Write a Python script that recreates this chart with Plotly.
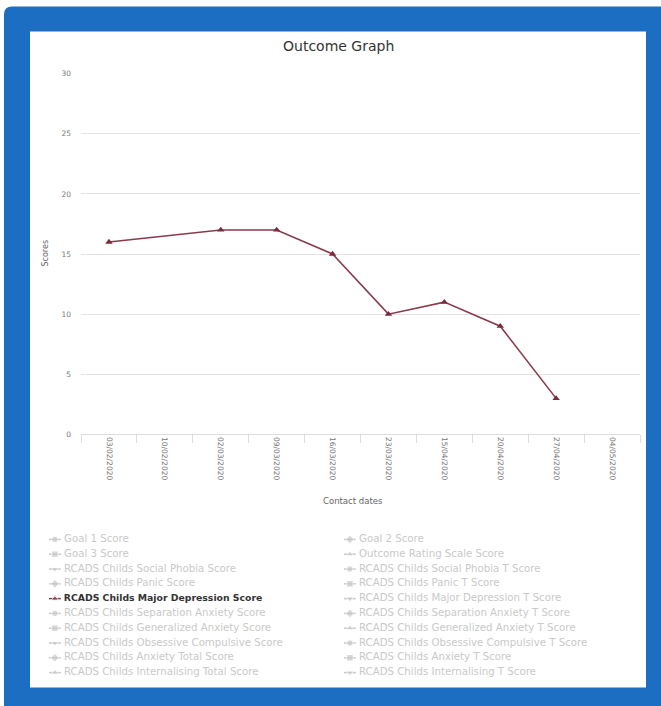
import plotly.graph_objects as go

# ---------------- data ----------------
contact_dates = ["03/02/2020", "10/02/2020", "02/03/2020", "09/03/2020", "16/03/2020",
                 "23/03/2020", "15/04/2020", "20/04/2020", "27/04/2020", "04/05/2020"]
major_depression_scores = [16, None, 17, 17, 15, 10, 11, 9, 3, None]
y_ticks = [0, 5, 10, 15, 20, 25, 30]

legend_names = [
    "Goal 1 Score", "Goal 2 Score",
    "Goal 3 Score", "Outcome Rating Scale Score",
    "RCADS Childs Social Phobia Score", "RCADS Childs Social Phobia T Score",
    "RCADS Childs Panic Score", "RCADS Childs Panic T Score",
    "RCADS Childs Major Depression Score", "RCADS Childs Major Depression T Score",
    "RCADS Childs Separation Anxiety Score", "RCADS Childs Separation Anxiety T Score",
    "RCADS Childs Generalized Anxiety Score", "RCADS Childs Generalized Anxiety T Score",
    "RCADS Childs Obsessive Compulsive Score", "RCADS Childs Obsessive Compulsive T Score",
    "RCADS Childs Anxiety Total Score", "RCADS Childs Anxiety T Score",
    "RCADS Childs Internalising Total Score", "RCADS Childs Internalising T Score",
]
visible_series = "RCADS Childs Major Depression Score"
symbols = ["circle", "diamond", "square", "triangle-up", "triangle-down"]

# ---------------- layout constants ----------------
W = 661
H = 720            # figure height (slightly taller than window so the frame reaches the bottom)
Y_OFF, Y_SCALE = 4.4, 0.9878   # observed page->photo vertical mapping
FONT = "DejaVu Sans"
BLUE = "#1b6ec2"
SERIES_COLOR = "#8a3b4b"
HIDDEN = "#c9c9c9"


def px(x):
    return x / W


def py(y):
    # convert a target photo y (px from top) into paper fraction
    page_y = (y - Y_OFF) / Y_SCALE
    return 1 - page_y / H


fig = go.Figure()

# main series
fig.add_trace(go.Scatter(
    x=contact_dates, y=major_depression_scores,
    mode="lines+markers", connectgaps=True,
    line=dict(color=SERIES_COLOR, width=1.6),
    marker=dict(symbol="triangle-up", size=6.5, color="#7a2a3c"),
    showlegend=False, xaxis="x", yaxis="y",
))

# custom two-column legend
COL_STEP = 295.0  # px between columns
for i, name in enumerate(legend_names):
    col, row = i % 2, i // 2
    on = name == visible_series
    gcol = SERIES_COLOR if on else HIDDEN
    label = "\u00a0<b>%s</b>" % name if on else "\u00a0" + name
    fig.add_trace(go.Scatter(
        x=[col, col + 0.02, col + 0.04], y=[row] * 3,
        mode="lines+markers+text",
        line=dict(color=gcol, width=1.5),
        marker=dict(symbol=symbols[i % len(symbols)], size=[0, 6.5, 0], color=gcol),
        text=["", "", label], textposition="middle right",
        textfont=dict(family=FONT, size=9.3 if on else 10.2,
                      color="#333333" if on else HIDDEN),
        cliponaxis=False, showlegend=False, hoverinfo="skip",
        xaxis="x2", yaxis="y2",
    ))

shapes = [
    dict(type="path", xref="paper", yref="paper", layer="below",
         path="M %f,%f L %f,%f Q %f,%f %f,%f L %f,%f L %f,%f Z" % (
             px(4), 0, px(4), py(15), px(4), py(7), px(12), py(7),
             px(661), py(7), px(661), 0),
         fillcolor=BLUE, line=dict(width=0)),
    dict(type="rect", xref="paper", yref="paper", layer="below",
         x0=px(30), x1=px(646), y0=py(688), y1=py(32),
         fillcolor="white", line=dict(width=0)),
]

annotations = [
    dict(text="Outcome Graph", x=px(338), y=py(46), xref="paper", yref="paper",
         xanchor="center", yanchor="middle",
         showarrow=False, font=dict(family=FONT, size=14, color="#333333")),
    dict(text="Contact dates", x=px(353), y=py(502), xref="paper", yref="paper",
         xanchor="center", yanchor="middle",
         showarrow=False, font=dict(family=FONT, size=8.5, color="#666666")),
    dict(text="Scores", x=px(46), y=py(254), xref="paper", yref="paper", textangle=-90,
         xanchor="center", yanchor="middle",
         showarrow=False, font=dict(family=FONT, size=8, color="#666666")),
]

leg_x0, leg_x1 = 49, 640
row_step = 14.8
row0 = 540

fig.update_layout(
    width=W, height=H,
    margin=dict(l=0, r=0, t=0, b=0),
    paper_bgcolor="white", plot_bgcolor="rgba(0,0,0,0)",
    showlegend=False,
    shapes=shapes, annotations=annotations,
    xaxis=dict(
        domain=[px(81), px(640)], anchor="y",
        type="category", categoryorder="array", categoryarray=contact_dates,
        range=[-0.5, len(contact_dates) - 0.5],
        tickangle=90, tickfont=dict(family=FONT, size=7.5, color="#777777"),
        ticks="outside", tickson="boundaries", ticklen=8, tickcolor="#dddddd",
        showline=True, linecolor="#dddddd", linewidth=1,
        showgrid=False, zeroline=False, fixedrange=True,
    ),
    yaxis=dict(
        domain=[py(435), py(74)], anchor="x",
        range=[0, 30], tickvals=y_ticks,
        tickfont=dict(family=FONT, size=7.5, color="#777777"),
        ticks="", ticklabelstandoff=9,
        showgrid=True, gridcolor="#e3e3e3", gridwidth=1,
        zeroline=False, showline=False, fixedrange=True,
    ),
    xaxis2=dict(
        domain=[px(leg_x0), px(leg_x1)], anchor="y2",
        range=[0, (leg_x1 - leg_x0) / COL_STEP],
        visible=False, fixedrange=True,
    ),
    yaxis2=dict(
        domain=[py(row0 + row_step * 9.5), py(row0 - row_step * 0.5)], anchor="x2",
        range=[9.5, -0.5], visible=False, fixedrange=True,
    ),
)

post = (
    "document.documentElement.style.margin='0';"
    "document.documentElement.style.overflow='hidden';"
    "document.body.style.margin='0';"
    "document.body.style.padding='0';"
    "document.body.style.overflow='hidden';"
)

fig.write_html(
    "out.html",
    config={"displayModeBar": False, "responsive": False},
    post_script=post,
)
